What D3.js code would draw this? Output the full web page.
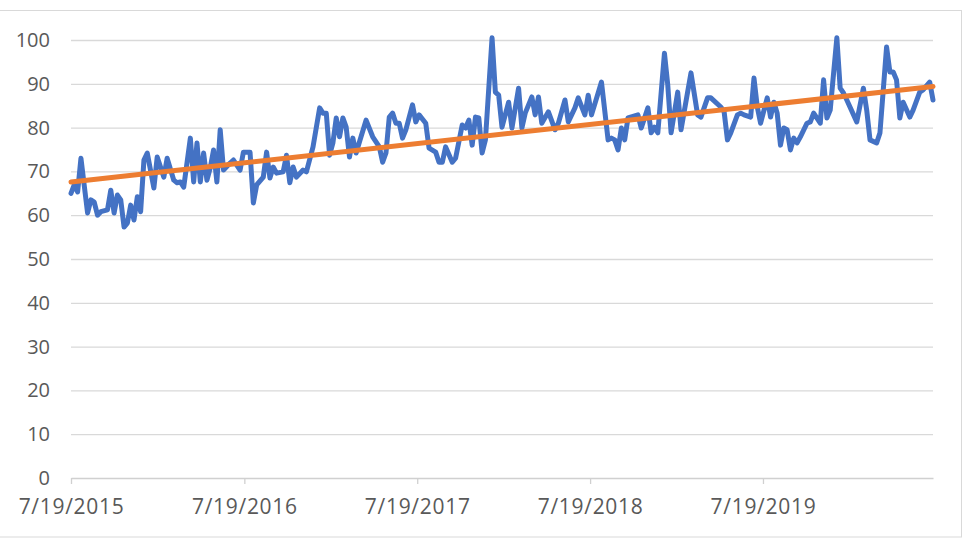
<!DOCTYPE html>
<html>
<head>
<meta charset="utf-8">
<script src="https://cdn.jsdelivr.net/npm/d3@7"></script>
<style>
  html, body { margin: 0; padding: 0; background: #fff; }
  svg { display: block; }
  text { font-family: "Open Sans", "DejaVu Sans", sans-serif; fill: #595959; }
</style>
</head>
<body>
<svg id="chart" width="972" height="539"></svg>
<script>
// ---- data (weekly series, week offset from 7/19/2015) ----
const startDate = "2015-07-19";
const weeks = [0,1,2,3,5,6,7,8,9,11,12,13,14,15,16,17,18,19,20,21,22,23,25,26,28,29,31,32,33,34,36,37,38,39,40,41,42,43,44,45,46,48,49,51,52,54,55,56,58,59,60,61,62,64,65,66,67,68,
  70,71,73,75,76,77,78,79,80,81,82,83,84,85,86,87,89,91,93,94,95,96,97,98,99,100,101,103,104,105,107,108,110,111,112,113,115,116,118,119,120,121,122,123,124,125,127,128,129,130,132,133,135,136,137,139,140,141,142,144,146,147,149,150,152,153,155,156,157,160,162,163,164,165,
  166,167,168,171,172,174,175,176,177,179,180,181,183,184,187,189,190,192,193,196,197,198,199,201,202,203,205,206,207,208,210,211,212,213,214,215,216,217,218,219,220,222,223,224,226,227,228,229,231,232,233,234,237,239,240,241,243,244,246,247,248,249,250,251,253,254,256,257,259,260];
const values = [65,67,65.3,73,60.5,63.5,63,60,60.8,61.2,65.7,60.5,64.6,63.5,57.3,58.2,62.3,58.9,64.2,60.8,72.6,74.2,66.2,73.3,68.7,73,68,67.4,67.6,66.4,77.6,67.6,76.5,67.6,74.2,68,70.8,74.9,67.6,79.5,70.3,71.9,72.6,70.3,74.4,74.4,62.8,66.9,68.7,74.4,68.5,71,69.6,69.9,73.7,67.4,71,68.7,
  70.3,69.9,75.6,84.5,83.3,83.3,73.7,76.5,82.2,77.9,82.2,80.1,73.3,77.6,74.2,76.7,81.7,77.9,75.6,72.1,74.2,82.4,83.3,81,81,77.6,79.5,85.2,81.3,82.9,81,75.3,74.4,72.1,72.1,75.6,72.1,73,80.6,79.9,81.7,76,82.4,82.2,74.2,77.2,100.5,88.1,87.4,80.1,85.8,79.9,89,79.9,83.3,87,82.9,87,81,83.6,79.5,81,86.3,81.3,84.5,86.8,82.9,87.4,82.9,90.4,77.2,77.6,77.2,74.9,
  79.9,77.2,82.2,82.9,79.9,84.5,78.8,80.1,78.8,97,89.7,78.8,88.1,79.5,92.5,82.9,82.4,86.8,86.8,84.7,83.6,77.2,78.8,82.9,83.3,82.9,82.4,91.3,84.7,81,86.8,82.4,85.8,83.3,76,79.9,79.5,74.9,77.6,76.5,77.9,81,81.3,83.3,81,90.9,82.2,84,100.5,89,87.9,86.3,81.3,89,84,77.2,76.5,78.8,98.4,92.7,92.7,90.9,82.2,85.8,82.4,84,88.1,88.6,90.4,86.3];
const trendValues = [67.6, 89.4];          // linear trendline at first / last date
const yTicks = [0,10,20,30,40,50,60,70,80,90,100];
const xTickDates = ["2015-07-19","2016-07-19","2017-07-19","2018-07-19","2019-07-19"];
const xTickLabels = ["7/19/2015","7/19/2016","7/19/2017","7/19/2018","7/19/2019"];

// ---- build ----
const parse = d3.utcParse("%Y-%m-%d");
const t0 = parse(startDate);
const pts = weeks.map((w, i) => ({ date: d3.utcDay.offset(t0, 7 * w), value: values[i] }));
const tEnd = pts[pts.length - 1].date;

const svg = d3.select("#chart");
const plotL = 71, plotR = 933, plotT = 40, plotB = 478;

const x = d3.scaleUtc().domain([t0, tEnd]).range([plotL, plotR]);
const y = d3.scaleLinear().domain([0, 100]).range([plotB, plotT]);

// chart border
svg.append("rect")
  .attr("x", -1).attr("y", 10.5).attr("width", 962.5).attr("height", 526.5)
  .attr("fill", "none").attr("stroke", "#d9d9d9").attr("stroke-width", 1);

// gridlines + y labels
const yAxis = d3.axisLeft(y).tickValues(yTicks).tickSize(-(plotR - plotL)).tickPadding(20).tickFormat(d3.format("d"));
const gy = svg.append("g").attr("transform", `translate(${plotL},0)`).call(yAxis);
gy.select(".domain").remove();
gy.selectAll(".tick line").attr("stroke", "#d9d9d9").attr("stroke-width", 1.3)
  .filter(d => d === 0).remove();
gy.selectAll(".tick text").attr("font-size", 20).attr("fill", "#595959").attr("dx", -1);

// x axis
const xAxis = d3.axisBottom(x).tickValues(xTickDates.map(parse))
  .tickFormat((d, i) => xTickLabels[i]).tickSizeInner(6).tickSizeOuter(0).tickPadding(15);
const gx = svg.append("g").attr("transform", `translate(0,${plotB})`).call(xAxis);
gx.select(".domain").attr("stroke", "#d0d0d0").attr("stroke-width", 1.3);
gx.selectAll(".tick line").attr("stroke", "#d0d0d0").attr("stroke-width", 1.3);
gx.selectAll(".tick text").attr("font-size", 21).attr("letter-spacing", 0.7).attr("fill", "#595959");

// data line
const line = d3.line().x(d => x(d.date)).y(d => y(d.value));
svg.append("path").datum(pts)
  .attr("d", line)
  .attr("fill", "none").attr("stroke", "#4472C4").attr("stroke-width", 5)
  .attr("stroke-linejoin", "round").attr("stroke-linecap", "round");

// trendline
const trend = [{ date: t0, value: trendValues[0] }, { date: tEnd, value: trendValues[1] }];
svg.append("path").datum(trend)
  .attr("d", line)
  .attr("fill", "none").attr("stroke", "#ED7D31").attr("stroke-width", 5)
  .attr("stroke-linecap", "round");
</script>
</body>
</html>
